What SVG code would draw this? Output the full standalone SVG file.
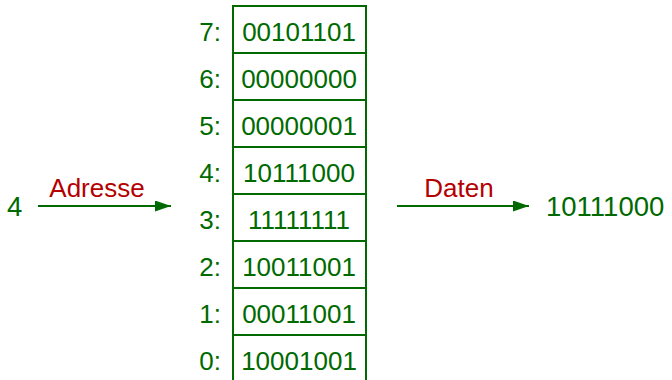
<svg xmlns="http://www.w3.org/2000/svg" width="672" height="380" viewBox="0 0 672 380">
<style>
text{font-family:"Liberation Sans",Arial,sans-serif;font-size:26px;fill:#006a00}
.v{text-anchor:middle}
.l{text-anchor:end}
.r{fill:#b40000}
.cell{fill:none;stroke:#006a00;stroke-width:2}
.c{stroke:#006a00;stroke-width:2;fill:none}
</style>
<defs>
<marker id="ah" markerWidth="16" markerHeight="11" refX="16" refY="5.5" orient="auto" markerUnits="userSpaceOnUse">
<path d="M0,0 L16,5.5 L0,11 Z" fill="#006a00"/>
</marker>
</defs>
<g id="memory">
<g id="cell7"><rect class="cell" x="233" y="6" width="133" height="47"/><text class="l" x="221" y="41">7:</text><text class="v" x="299" y="41">00101101</text></g>
<g id="cell6"><rect class="cell" x="233" y="53" width="133" height="47"/><text class="l" x="221" y="88">6:</text><text class="v" x="299" y="88">00000000</text></g>
<g id="cell5"><rect class="cell" x="233" y="100" width="133" height="47"/><text class="l" x="221" y="135">5:</text><text class="v" x="299" y="135">00000001</text></g>
<g id="cell4"><rect class="cell" x="233" y="147" width="133" height="47"/><text class="l" x="221" y="182">4:</text><text class="v" x="299" y="182">10111000</text></g>
<g id="cell3"><rect class="cell" x="233" y="194" width="133" height="47"/><text class="l" x="221" y="229">3:</text><text class="v" x="299" y="229">11111111</text></g>
<g id="cell2"><rect class="cell" x="233" y="241" width="133" height="47"/><text class="l" x="221" y="276">2:</text><text class="v" x="299" y="276">10011001</text></g>
<g id="cell1"><rect class="cell" x="233" y="288" width="133" height="47"/><text class="l" x="221" y="323">1:</text><text class="v" x="299" y="323">00011001</text></g>
<g id="cell0"><path class="cell" d="M233,382 V335 H366 V382"/><text class="l" x="221" y="370">0:</text><text class="v" x="299" y="370">10001001</text></g>
</g>
<g id="input"><text x="7" y="216" style="font-size:27.5px">4</text></g>
<g id="output"><text x="546" y="216" style="font-size:27.5px">10111000</text></g>
<g id="connectors">
<line class="c" x1="38" y1="206" x2="171" y2="206" marker-end="url(#ah)"/>
<text class="r" x="97" y="197" text-anchor="middle">Adresse</text>
<line class="c" x1="397" y1="206" x2="529" y2="206" marker-end="url(#ah)"/>
<text class="r" x="459" y="197" text-anchor="middle">Daten</text>
</g>
</svg>
